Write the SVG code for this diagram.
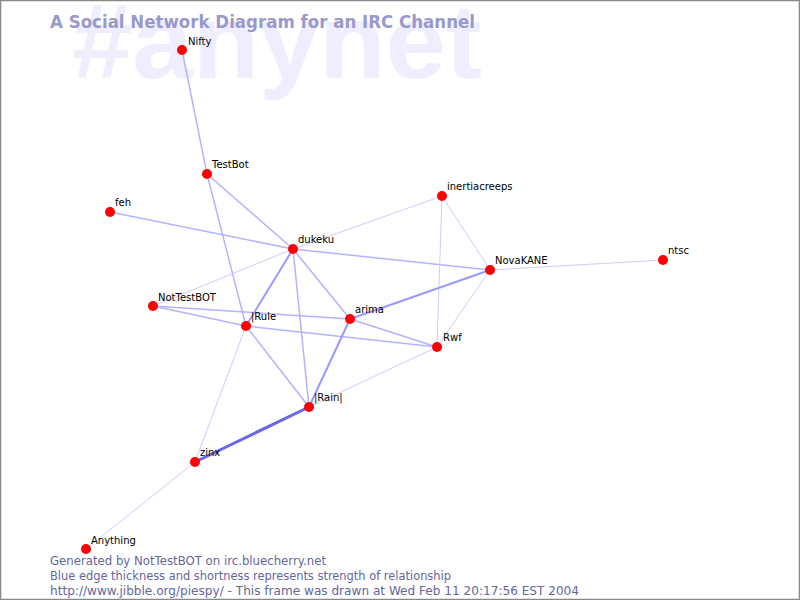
<svg xmlns="http://www.w3.org/2000/svg" width="800" height="600" viewBox="0 0 800 600">
<style>
.e1{stroke:#ccccff;stroke-width:1;fill:none}
.e2{stroke:#b3b3ff;stroke-width:1.5;fill:none}
.e3{stroke:#9999ff;stroke-width:2;fill:none}
.e4{stroke:#6666ee;stroke-width:3;fill:none}
.n{fill:#ff0000}
.l{font-family:"DejaVu Sans",sans-serif;font-size:10px;fill:#000}
.f{font-family:"DejaVu Sans",sans-serif;font-size:12px;fill:#666699}
</style>
<rect x="0" y="0" width="800" height="600" fill="#ffffff"/>
<rect x="0.5" y="0.5" width="799" height="599" fill="none" stroke="#888888" stroke-width="1.5"/>
<text x="72" y="78" font-family="'Liberation Sans',sans-serif" font-weight="bold" font-size="106" fill="#eeeeff" textLength="410" lengthAdjust="spacingAndGlyphs">#anynet</text>
<text x="50" y="28" font-family="'DejaVu Sans',sans-serif" font-weight="bold" font-size="18" fill="#9999cc" textLength="425" lengthAdjust="spacingAndGlyphs">A Social Network Diagram for an IRC Channel</text>
<g id="connectors">
<line class="e2" x1="182" y1="50" x2="207" y2="174"/>
<line class="e2" x1="207" y1="174" x2="246" y2="326"/>
<line class="e2" x1="207" y1="174" x2="293" y2="249"/>
<line class="e2" x1="110" y1="212" x2="293" y2="249"/>
<line class="e1" x1="293" y1="249" x2="442" y2="196"/>
<line class="e2" x1="293" y1="249" x2="490" y2="270"/>
<line class="e1" x1="293" y1="249" x2="153" y2="306"/>
<line class="e3" x1="293" y1="249" x2="246" y2="326"/>
<line class="e2" x1="293" y1="249" x2="350" y2="319"/>
<line class="e2" x1="293" y1="249" x2="309" y2="407"/>
<line class="e1" x1="442" y1="196" x2="490" y2="270"/>
<line class="e1" x1="442" y1="196" x2="437" y2="347"/>
<line class="e1" x1="490" y1="270" x2="663" y2="260"/>
<line class="e3" x1="490" y1="270" x2="350" y2="319"/>
<line class="e1" x1="490" y1="270" x2="437" y2="347"/>
<line class="e2" x1="153" y1="306" x2="350" y2="319"/>
<line class="e2" x1="153" y1="306" x2="246" y2="326"/>
<line class="e2" x1="246" y1="326" x2="437" y2="347"/>
<line class="e2" x1="246" y1="326" x2="309" y2="407"/>
<line class="e1" x1="246" y1="326" x2="195" y2="462"/>
<line class="e3" x1="350" y1="319" x2="309" y2="407"/>
<line class="e2" x1="350" y1="319" x2="437" y2="347"/>
<line class="e1" x1="437" y1="347" x2="309" y2="407"/>
<line class="e4" x1="309" y1="407" x2="195" y2="462"/>
<line class="e1" x1="195" y1="462" x2="86" y2="549"/>
</g>
<g id="Nifty"><circle class="n" cx="182" cy="50" r="5"/><text class="l" x="188" y="45">Nifty</text></g>
<g id="TestBot"><circle class="n" cx="207" cy="174" r="5"/><text class="l" x="212" y="168">TestBot</text></g>
<g id="feh"><circle class="n" cx="110" cy="212" r="5"/><text class="l" x="115" y="206">feh</text></g>
<g id="dukeku"><circle class="n" cx="293" cy="249" r="5"/><text class="l" x="298" y="243">dukeku</text></g>
<g id="inertiacreeps"><circle class="n" cx="442" cy="196" r="5"/><text class="l" x="447" y="190">inertiacreeps</text></g>
<g id="NovaKANE"><circle class="n" cx="490" cy="270" r="5"/><text class="l" x="495" y="264">NovaKANE</text></g>
<g id="ntsc"><circle class="n" cx="663" cy="260" r="5"/><text class="l" x="668" y="254">ntsc</text></g>
<g id="NotTestBOT"><circle class="n" cx="153" cy="306" r="5"/><text class="l" x="158" y="301">NotTestBOT</text></g>
<g id="Rule"><circle class="n" cx="246" cy="326" r="5"/><text class="l" x="251" y="320">|Rule</text></g>
<g id="arima"><circle class="n" cx="350" cy="319" r="5"/><text class="l" x="355" y="313">arima</text></g>
<g id="Rwf"><circle class="n" cx="437" cy="347" r="5"/><text class="l" x="443" y="341">Rwf</text></g>
<g id="Rain"><circle class="n" cx="309" cy="407" r="5"/><text class="l" x="314" y="401">|Rain|</text></g>
<g id="zinx"><circle class="n" cx="195" cy="462" r="5"/><text class="l" x="200" y="456">zinx</text></g>
<g id="Anything"><circle class="n" cx="86" cy="549" r="5"/><text class="l" x="91" y="544">Anything</text></g>
<text class="f" x="50" y="565" textLength="276" lengthAdjust="spacingAndGlyphs">Generated by NotTestBOT on irc.bluecherry.net</text>
<text class="f" x="50" y="580" textLength="401" lengthAdjust="spacingAndGlyphs">Blue edge thickness and shortness represents strength of relationship</text>
<text class="f" x="50" y="595" textLength="529" lengthAdjust="spacingAndGlyphs">http://www.jibble.org/piespy/ - This frame was drawn at Wed Feb 11 20:17:56 EST 2004</text>
</svg>
